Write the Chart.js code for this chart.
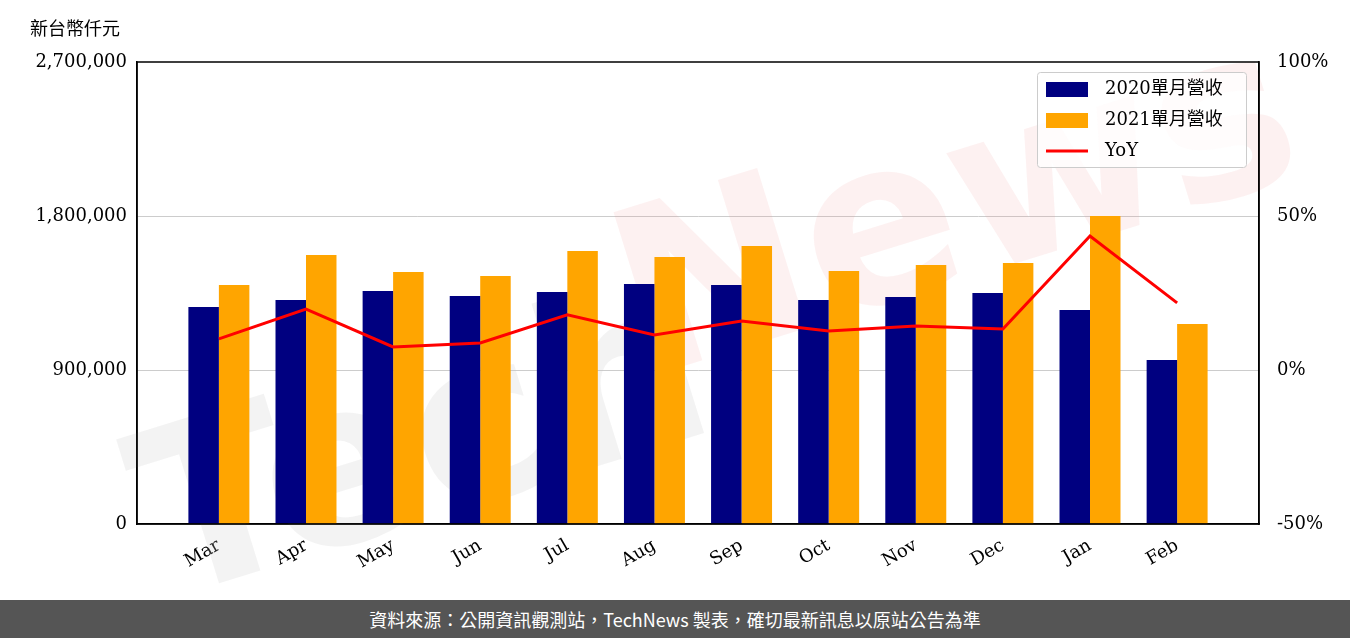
<!DOCTYPE html><html><head><meta charset="utf-8">
<script src="https://cdn.jsdelivr.net/npm/chart.js@4"></script>
<style>body{margin:0;background:#fff;width:1350px;height:638px;overflow:hidden}
#w{position:relative;width:1350px;height:600px}
#f{height:38px;background:#555;color:#fff;font:18px "Noto Sans CJK TC";display:flex;align-items:center;justify-content:center}
#t{position:absolute;left:30px;top:14px;font:18px "Noto Sans CJK TC";color:#000}</style></head><body>
<div id="w"><canvas id="c" width="1350" height="600"></canvas><div id="t">新台幣仟元</div></div>
<div id="f">資料來源：公開資訊觀測站，TechNews 製表，確切最新訊息以原站公告為準</div>
<script>
const months=["Mar","Apr","May","Jun","Jul","Aug","Sep","Oct","Nov","Dec","Jan","Feb"];
const rev2020=[1268000,1309000,1362000,1332000,1356000,1403000,1397000,1309000,1327000,1350000,1251000,958000];
const rev2021=[1397000,1572000,1473000,1449000,1595000,1560000,1625000,1479000,1514000,1525000,1800000,1169000];
const yoy=[10.1,19.8,7.5,8.8,17.9,11.4,15.9,12.7,14.3,13.3,43.5,21.8];
const F="'DejaVu Serif'";
const pts=a=>a.map((v,i)=>({x:i,y:v}));
const wm={id:'wm',beforeDatasetsDraw(c){const x=c.ctx;x.save();x.translate(700,330);x.rotate(-0.3);x.font="bold 230px 'DejaVu Sans'";x.textAlign='center';x.textBaseline='middle';
x.fillStyle='rgba(200,200,200,0.22)';x.fillText('Tech',-300,40);x.fillStyle='rgba(240,150,150,0.13)';x.fillText('News',280,-30);x.restore();}};
const fr={id:'fr',afterDatasetsDraw(c){const a=c.chartArea,x=c.ctx;x.save();x.strokeStyle='#000';x.lineWidth=1.5;x.strokeRect(a.left,a.top,a.right-a.left,a.bottom-a.top);x.restore();}};
const lg={id:'lg',afterDraw(c){const x=c.ctx;x.save();const L=1037,T=72,W=209,H=95;x.fillStyle='rgba(255,255,255,0.8)';x.strokeStyle='#ccc';x.lineWidth=1;
x.beginPath();x.roundRect(L+.5,T+.5,W,H,3);x.fill();x.stroke();x.font="18px "+F+", 'Noto Sans CJK TC'";x.fillStyle='#000';x.textBaseline='middle';
const items=[["2020單月營收",'#000080','b'],["2021單月營收",'#FFA500','b'],["YoY",'#FF0000','l']];
items.forEach((it,i)=>{const y=T+17+i*31;if(it[2]=='b'){x.fillStyle=it[1];x.fillRect(L+9,y-7,42,15);}else{x.strokeStyle=it[1];x.lineWidth=3;x.beginPath();x.moveTo(L+9,y);x.lineTo(L+51,y);x.stroke();}
x.fillStyle='#000';x.fillText(it[0],L+68,y);});x.restore();}};
new Chart(document.getElementById('c'),{data:{datasets:[
{type:'line',data:pts(yoy),yAxisID:'y1',borderColor:'#FF0000',borderWidth:3,pointRadius:0,tension:0,order:0},
{type:'bar',data:pts(rev2020),backgroundColor:'#000080',categoryPercentage:0.7,barPercentage:1,order:1},
{type:'bar',data:pts(rev2021),backgroundColor:'#FFA500',categoryPercentage:0.7,barPercentage:1,order:1}]},
options:{responsive:false,animation:false,events:[],layout:{padding:{top:62,left:0,right:0,bottom:0}},
plugins:{legend:{display:false},tooltip:{enabled:false}},
scales:{x:{type:'linear',min:-0.94,max:11.94,offset:false,afterBuildTicks(s){s.ticks=months.map((m,i)=>({value:i}))},afterFit(s){s.height=76},grid:{display:false},border:{color:'#000',width:1.5},
ticks:{color:'#000',font:{family:F,size:18},maxRotation:30,minRotation:30,callback:v=>months[v]}},
y:{min:0,max:2700000,afterFit(s){s.width=137},border:{color:'#000',width:1.5},grid:{color:c=>(c.tick.value>0&&c.tick.value<2700000)?'#ccc':'transparent',drawTicks:false},
ticks:{stepSize:900000,color:'#000',padding:10,font:{family:F,size:18},callback:v=>v.toLocaleString('en-US')}},
y1:{position:'right',min:-50,max:100,afterFit(s){s.width=91},border:{color:'#000',width:1.5},grid:{display:false},
ticks:{stepSize:50,color:'#000',padding:10,font:{family:F,size:18},callback:v=>v+'%'}}}},plugins:[wm,fr,lg]});
</script></body></html>
